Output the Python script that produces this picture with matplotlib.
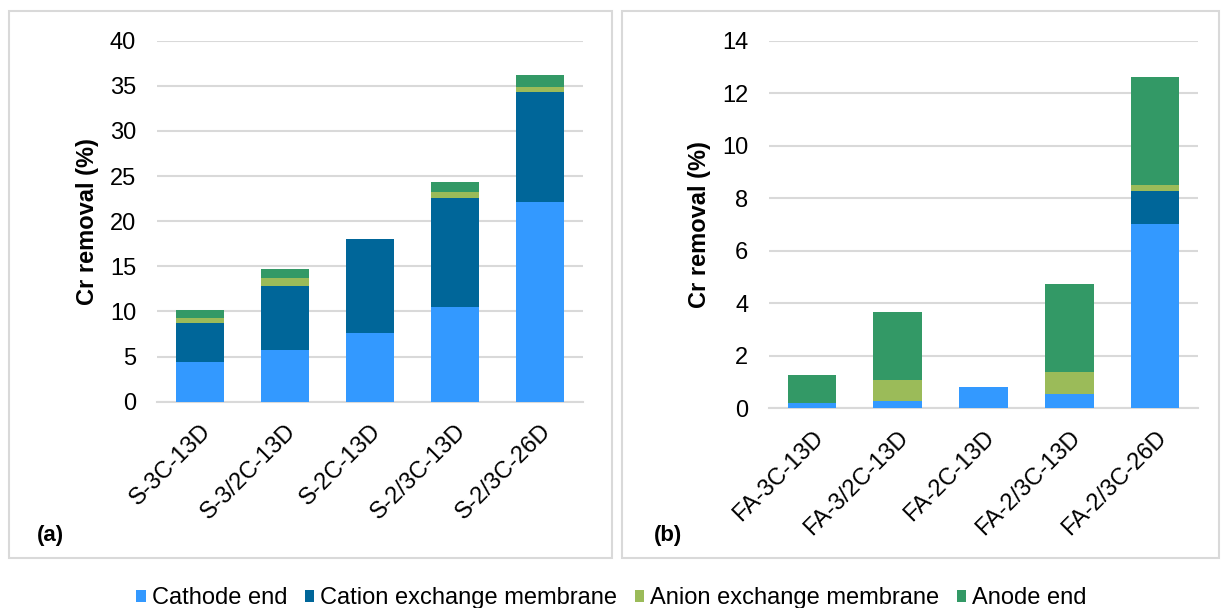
import matplotlib.pyplot as plt
from matplotlib.patches import Rectangle
import numpy as np

plt.rcParams["font.family"] = ["Liberation Sans", "DejaVu Sans"]

# Cr removal (%) split by compartment, stacked bottom to top
s_samples = ["S-3C-13D", "S-3/2C-13D", "S-2C-13D", "S-2/3C-13D", "S-2/3C-26D"]
s_cathode = [4.4, 5.73, 7.61, 10.5, 22.1]
s_cation = [4.35, 7.12, 10.39, 12.08, 12.25]
s_anion = [0.52, 0.82, 0.0, 0.63, 0.52]
s_anode = [0.93, 1.0, 0.0, 1.1, 1.33]

fa_samples = ["FA-3C-13D", "FA-3/2C-13D", "FA-2C-13D", "FA-2/3C-13D", "FA-2/3C-26D"]
fa_cathode = [0.19, 0.28, 0.81, 0.56, 7.02]
fa_cation = [0.0, 0.0, 0.0, 0.0, 1.25]
fa_anion = [0.0, 0.8, 0.0, 0.82, 0.23]
fa_anode = [1.09, 2.6, 0.0, 3.35, 4.13]

series_names = ["Cathode end", "Cation exchange membrane", "Anion exchange membrane", "Anode end"]
colors = ["#3399FF", "#006699", "#9BBB59", "#339966"]

W, H = 1223, 608
fig = plt.figure(figsize=(W / 100, H / 100), dpi=100)


def fig_rect(x0, y0, x1, y1):
    # pixel box (top-left origin) -> figure fraction [left, bottom, width, height]
    return [x0 / W, 1 - y1 / H, (x1 - x0) / W, (y1 - y0) / H]


def draw_panel(rect, samples, stacks, ymax, ystep, tag, tag_x):
    ax = fig.add_axes(rect)
    x = np.arange(len(samples))
    bottom = np.zeros(len(samples))
    handles = []
    for vals, color, name in zip(stacks, colors, series_names):
        vals = np.array(vals)
        h = ax.bar(x, vals, 0.565, bottom=bottom, color=color, label=name, zorder=3)
        handles.append(h)
        bottom += vals
    ax.set_xlim(-0.5, len(samples) - 0.5)
    ax.set_ylim(0, ymax)
    ax.set_yticks(np.arange(0, ymax + ystep / 2, ystep))
    ax.grid(axis="y", color="#D9D9D9", linewidth=1.5, zorder=0)
    for side in ["top", "right", "left"]:
        ax.spines[side].set_visible(False)
    ax.spines["bottom"].set_color("#D9D9D9")
    ax.spines["bottom"].set_linewidth(1.5)
    ax.tick_params(axis="both", length=0, labelsize=17)
    ax.tick_params(axis="y", pad=15)
    ax.set_xticks(x)
    ax.set_xticklabels(samples, rotation=45, ha="right", va="top",
                       rotation_mode="anchor")
    ax.tick_params(axis="x", pad=13)
    ax.set_ylabel("Cr removal (%)", fontsize=17, fontweight="bold", labelpad=8)
    fig.text(tag_x / W, 1 - 535 / H, tag, fontsize=16, fontweight="bold",
             va="center", ha="left")
    return ax, handles


# panel frames
for x0, x1 in [(9, 612), (622, 1219)]:
    fig.patches.append(Rectangle((x0 / W, 1 - 558 / H), (x1 - x0) / W, (558 - 11) / H,
                                 transform=fig.transFigure, fill=False,
                                 edgecolor="#D9D9D9", linewidth=1.5))

ax1, handles = draw_panel(fig_rect(157, 40.7, 583, 401.7), s_samples,
                          [s_cathode, s_cation, s_anion, s_anode], 40, 5, "(a)", 37)
ax2, _ = draw_panel(fig_rect(769, 40.7, 1198, 408.3), fa_samples,
                    [fa_cathode, fa_cation, fa_anion, fa_anode], 14, 2, "(b)", 654)

fig.legend(handles=handles, labels=series_names, loc="center",
           bbox_to_anchor=(0.5, 1 - 598 / H), ncol=4, frameon=False,
           fontsize=17, handlelength=0.4, handleheight=0.4,
           handletextpad=0.25, columnspacing=0.75)

fig.savefig("out.png", dpi=100)
